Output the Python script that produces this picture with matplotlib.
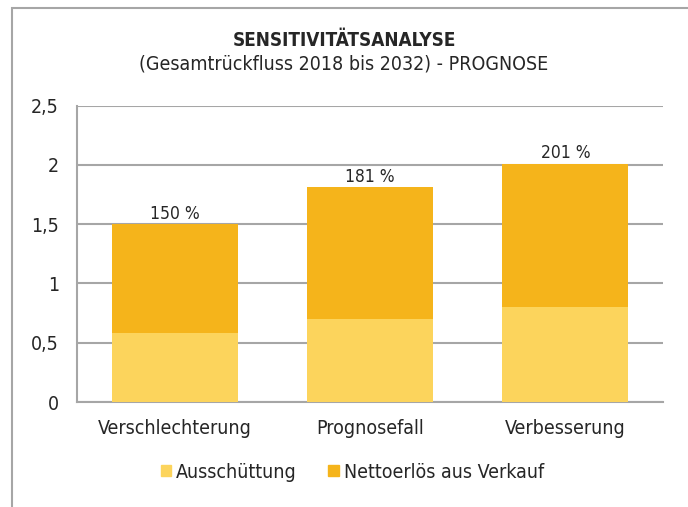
import matplotlib
matplotlib.use("Agg")
import matplotlib.pyplot as plt
from matplotlib.patches import Rectangle, Patch
from matplotlib import font_manager as fm

categories = ["Verschlechterung", "Prognosefall", "Verbesserung"]
ausschuettung = [0.58, 0.70, 0.80]
nettoerloes = [0.92, 1.11, 1.21]
series_names = ["Ausschüttung", "Nettoerlös aus Verkauf"]
yticks = [0, 0.5, 1, 1.5, 2, 2.5]
ytick_labels = ["0", "0,5", "1", "1,5", "2", "2,5"]

has_cond = any(f.name == "DejaVu Sans" and f.stretch == "condensed" for f in fm.fontManager.ttflist)
plt.rcParams["font.family"] = ["DejaVu Sans"]
if has_cond:
    plt.rcParams["font.stretch"] = "condensed"
    fs = 14
else:
    fs = 13

light = "#FCD45C"
dark = "#F5B41B"
grid = "#A6A6A6"
txt = "#262626"

fig = plt.figure(figsize=(6.88, 5.07), dpi=100)
W, H = 688, 507
ax = fig.add_axes([77 / W, 1 - 402 / H, (663 - 77) / W, (402 - 105.7) / H])

x = list(range(len(categories)))
ax.bar(x, ausschuettung, width=0.645, color=light, zorder=3)
ax.bar(x, nettoerloes, width=0.645, bottom=ausschuettung, color=dark, zorder=3)
for i in x:
    total = ausschuettung[i] + nettoerloes[i]
    ax.annotate(f"{round(total * 100)} %", (i, total), xytext=(0, 1),
                textcoords="offset points", ha="center", va="bottom",
                fontsize=fs - 1.5, color=txt)

ax.set_xlim(-0.5, 2.5)
ax.set_ylim(0, 2.5)
ax.set_yticks(yticks)
ax.set_yticklabels(ytick_labels)
ax.set_xticks(x)
ax.set_xticklabels(categories)
ax.tick_params(axis="both", length=0, labelsize=fs, colors=txt)
ax.tick_params(axis="y", pad=13)
ax.tick_params(axis="x", pad=12)
ax.yaxis.grid(True, color=grid, linewidth=1.5, zorder=0)
for s in ["top", "right"]:
    ax.spines[s].set_visible(False)
for s in ["left", "bottom"]:
    ax.spines[s].set_color(grid)
    ax.spines[s].set_linewidth(1.5)

fig.text(0.5, 1 - 40 / H, "SENSITIVITÄTSANALYSE", ha="center", va="center",
         fontsize=fs - 0.4, fontweight="bold", color=txt)
fig.text(0.5, 1 - 64 / H, "(Gesamtrückfluss 2018 bis 2032) - PROGNOSE",
         ha="center", va="center", fontsize=fs, color=txt)

handles = [Patch(color=light), Patch(color=dark)]
fig.legend(handles, series_names, loc="center", bbox_to_anchor=(0.512, 1 - 472 / H),
           ncol=2, frameon=False, fontsize=fs, handlelength=0.55, handleheight=0.55,
           handletextpad=0.25, columnspacing=1.6, labelcolor=txt)

fig.patches.append(Rectangle((12 / W, -0.1), 1.2, 1 - 7.5 / H + 0.1, transform=fig.transFigure,
                             fill=False, edgecolor=grid, linewidth=1.5))

fig.savefig("out.png", dpi=100)
